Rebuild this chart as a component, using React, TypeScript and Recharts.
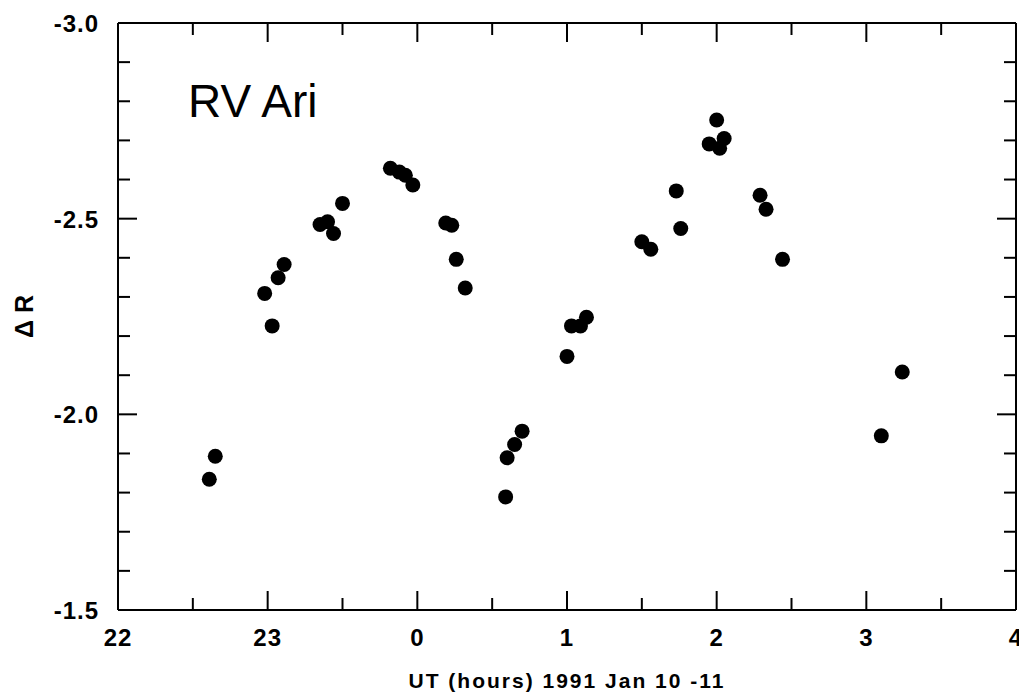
import { Scatter, ScatterChart, XAxis, YAxis } from 'recharts'

// RV Ari light curve, UT hours (22 -> 28 means 22h on Jan 10 to 4h on Jan 11)
const utHours = [
    22.61, 22.65, 22.98, 23.03, 23.07, 23.11, 23.35, 23.4, 23.44, 23.5,
    23.82, 23.88, 23.92, 23.97, 24.19, 24.23, 24.26, 24.32,
    24.59, 24.6, 24.65, 24.7, 25.0, 25.03, 25.09, 25.13,
    25.5, 25.56, 25.73, 25.76, 25.95, 26.0, 26.02, 26.05,
    26.29, 26.33, 26.44, 27.1, 27.24
]
const deltaR = [
    -1.834, -1.893, -2.309, -2.226, -2.349, -2.383, -2.485, -2.492, -2.462, -2.539,
    -2.629, -2.619, -2.611, -2.586, -2.489, -2.483, -2.396, -2.323,
    -1.789, -1.889, -1.923, -1.957, -2.148, -2.226, -2.226, -2.248,
    -2.441, -2.422, -2.571, -2.475, -2.691, -2.752, -2.68, -2.705,
    -2.56, -2.524, -2.396, -1.945, -2.108
]
const xTicks = [22, 22.5, 23, 23.5, 24, 24.5, 25, 25.5, 26, 26.5, 27, 27.5, 28]
const yTicks = [-3.0, -2.9, -2.8, -2.7, -2.6, -2.5, -2.4, -2.3, -2.2, -2.1, -2.0, -1.9, -1.8, -1.7, -1.6, -1.5]
const starName = 'RV Ari'
const xTitle = 'UT (hours) 1991 Jan 10 -11'
const yTitle = 'Δ R'

const points = utHours.map((x, i) => ({ x, y: deltaR[i] }))

const FONT = '"Liberation Sans", Arial, Helvetica, sans-serif'
const MAJOR = 19
const MINOR = 12

const isMajorX = (v: number) => Number.isInteger(v)
const isMajorY = (v: number) => Math.abs(v * 2 - Math.round(v * 2)) < 1e-6

// ticks point into the plot, labels only on major ticks
const BottomTick = ({ x, y, payload }: any) => {
    const major = isMajorX(payload.value)
    return (
        <g>
            <line x1={x} x2={x} y1={y} y2={y - (major ? MAJOR : MINOR)} stroke="#000" strokeWidth={2} />
            {major && (
                <text x={x} y={y + 36} textAnchor="middle" fontFamily={FONT} fontWeight="bold" fontSize={24} letterSpacing={1} fill="#000">
                    {payload.value % 24}
                </text>
            )}
        </g>
    )
}

const TopTick = ({ x, y, payload }: any) => {
    const major = isMajorX(payload.value)
    return <line x1={x} x2={x} y1={y} y2={y + (major ? MAJOR : MINOR)} stroke="#000" strokeWidth={2} />
}

const LeftTick = ({ x, y, payload }: any) => {
    const major = isMajorY(payload.value)
    return (
        <g>
            <line x1={x} x2={x + (major ? MAJOR : MINOR)} y1={y} y2={y} stroke="#000" strokeWidth={2} />
            {major && (
                <text x={x - 19} y={y + 9} textAnchor="end" fontFamily={FONT} fontWeight="bold" fontSize={24} letterSpacing={1} fill="#000">
                    {payload.value.toFixed(1)}
                </text>
            )}
        </g>
    )
}

const RightTick = ({ x, y, payload }: any) => {
    const major = isMajorY(payload.value)
    return <line x1={x} x2={x - (major ? MAJOR : MINOR)} y1={y} y2={y} stroke="#000" strokeWidth={2} />
}

const XTitle = ({ viewBox }: any) => (
    <text
        x={viewBox.x + viewBox.width / 2}
        y={viewBox.y + 78}
        textAnchor="middle"
        fontFamily={FONT}
        fontWeight="bold"
        fontSize={21}
        letterSpacing={2}
        fill="#000"
    >
        {xTitle}
    </text>
)

const YTitle = ({ viewBox }: any) => {
    const cx = 33
    const cy = viewBox.y + viewBox.height / 2
    return (
        <text
            x={cx}
            y={cy}
            transform={`rotate(-90, ${cx}, ${cy})`}
            textAnchor="middle"
            fontFamily={FONT}
            fontWeight="bold"
            fontSize={25}
            fill="#000"
        >
            {yTitle}
        </text>
    )
}

const StarLabel = ({ viewBox }: any) => (
    <text x={viewBox.x + 70} y={viewBox.y + viewBox.height + 94} fontFamily={FONT} fontSize={46} fill="#000">
        {starName}
    </text>
)

const Dot = (p: any) => <circle cx={p.cx} cy={p.cy} r={7.5} fill="#000" />
const NoDot = () => <g />

export default function App() {
    return (
        <div style={{ position: 'absolute', left: 0, top: 0, background: '#fff' }}>
            <ScatterChart width={1019} height={695} margin={{ top: 22, right: 2, bottom: 0, left: 0 }}>
                <XAxis
                    dataKey="x"
                    type="number"
                    domain={[22, 28]}
                    ticks={xTicks}
                    interval={0}
                    allowDataOverflow
                    height={85}
                    tickSize={0}
                    tickMargin={0}
                    tickLine={false}
                    axisLine={{ stroke: '#000', strokeWidth: 2 }}
                    tick={<BottomTick />}
                    label={<XTitle />}
                />
                <XAxis
                    xAxisId="top"
                    dataKey="x"
                    orientation="top"
                    type="number"
                    domain={[22, 28]}
                    ticks={xTicks}
                    interval={0}
                    allowDataOverflow
                    height={1}
                    tickSize={0}
                    tickMargin={0}
                    tickLine={false}
                    axisLine={{ stroke: '#000', strokeWidth: 2 }}
                    tick={<TopTick />}
                    label={<StarLabel />}
                />
                <YAxis
                    dataKey="y"
                    type="number"
                    domain={[-3.0, -1.5]}
                    reversed
                    ticks={yTicks}
                    interval={0}
                    allowDataOverflow
                    width={118}
                    tickSize={0}
                    tickMargin={0}
                    tickLine={false}
                    axisLine={{ stroke: '#000', strokeWidth: 2 }}
                    tick={<LeftTick />}
                    label={<YTitle />}
                />
                <YAxis
                    yAxisId="right"
                    dataKey="y"
                    orientation="right"
                    type="number"
                    domain={[-3.0, -1.5]}
                    reversed
                    ticks={yTicks}
                    interval={0}
                    allowDataOverflow
                    width={1}
                    tickSize={0}
                    tickMargin={0}
                    tickLine={false}
                    axisLine={{ stroke: '#000', strokeWidth: 2 }}
                    tick={<RightTick />}
                />
                <Scatter data={points} fill="#000" shape={Dot} isAnimationActive={false} />
                {/* invisible twin so the top and right frame axes get drawn */}
                <Scatter data={points} xAxisId="top" yAxisId="right" shape={NoDot} isAnimationActive={false} />
            </ScatterChart>
        </div>
    )
}
